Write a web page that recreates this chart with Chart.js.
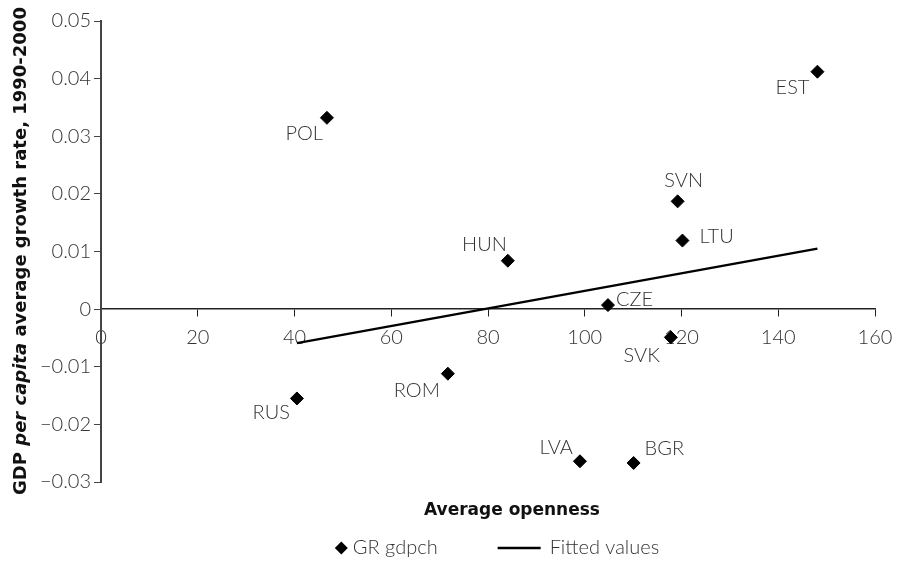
<!DOCTYPE html>
<html>
<head>
<meta charset="utf-8">
<script src="https://cdn.jsdelivr.net/npm/chart.js@4"></script>
<style>
  html, body { margin: 0; padding: 0; background: #fff; }
  #wrap { width: 903px; height: 570px; }
</style>
</head>
<body>
<div id="wrap"><canvas id="chart"></canvas></div>
<script>
"use strict";

// country codes and values
const countries = ["POL", "EST", "SVN", "LTU", "HUN", "CZE", "SVK", "ROM", "RUS", "LVA", "BGR"];
const openness = [46.7, 148.1, 119.2, 120.2, 84.1, 104.8, 117.8, 71.7, 40.5, 99.0, 110.1];
const growth = [0.0332, 0.0412, 0.0187, 0.0119, 0.0084, 0.0007, -0.0049, -0.0112, -0.0155, -0.0264, -0.0267];

// fitted line end points
const fitX = [40.5, 148.1];
const fitY = [-0.0059, 0.0105];

const xTicks = [0, 20, 40, 60, 80, 100, 120, 140, 160];
const yTicks = [-0.03, -0.02, -0.01, 0, 0.01, 0.02, 0.03, 0.04, 0.05];

// where each country label sits relative to its marker
const labelPlace = [
  { dx: -4, dy: 16, align: "right" },   // POL
  { dx: -8, dy: 16, align: "right" },   // EST
  { dx: 6, dy: -21, align: "center" },  // SVN
  { dx: 17, dy: -4, align: "left" },    // LTU
  { dx: -1, dy: -16, align: "right" },  // HUN
  { dx: 8, dy: -6, align: "left" },     // CZE
  { dx: -11, dy: 18, align: "right" },  // SVK
  { dx: -8, dy: 17, align: "right" },   // ROM
  { dx: -7, dy: 14, align: "right" },   // RUS
  { dx: -7, dy: -14, align: "right" },  // LVA
  { dx: 11, dy: -14, align: "left" }    // BGR
];

const lightFamily = "Lato, 'DejaVu Sans', sans-serif";
const lightFont = "300 20px " + lightFamily;
const boldFont = "bold 18px 'DejaVu Sans', sans-serif";
const italicBoldFont = "italic bold 18px 'DejaVu Sans', sans-serif";
const textColor = "#333";

function fmtY(v) {
  if (Math.abs(v) < 1e-9) return "0";
  const s = Math.abs(v).toFixed(2);
  return v < 0 ? "\u2212" + s : s;
}

// country labels next to markers
const pointLabels = {
  id: "pointLabels",
  afterDatasetsDraw(chart) {
    const meta = chart.getDatasetMeta(0);
    const ctx = chart.ctx;
    ctx.save();
    ctx.font = lightFont;
    ctx.fillStyle = textColor;
    ctx.textBaseline = "middle";
    meta.data.forEach((pt, i) => {
      const p = labelPlace[i];
      ctx.textAlign = p.align;
      ctx.fillText(countries[i], pt.x + p.dx, pt.y + p.dy);
    });
    ctx.restore();
  }
};

// axis titles (y title has an italic part) and the legend row
const axisTitles = {
  id: "axisTitles",
  afterDraw(chart) {
    const ctx = chart.ctx;
    ctx.save();
    ctx.fillStyle = "#111";
    ctx.textBaseline = "middle";

    ctx.font = "bold 17px 'DejaVu Sans', sans-serif";
    ctx.textAlign = "center";
    ctx.fillText("Average openness", 512, 511);

    const parts = [
      { t: "GDP ", f: boldFont },
      { t: "per capita", f: italicBoldFont },
      { t: " average growth rate, 1990-2000", f: boldFont }
    ];
    let total = 0;
    parts.forEach(p => { ctx.font = p.f; p.w = ctx.measureText(p.t).width; total += p.w; });
    ctx.save();
    ctx.translate(21, 251);
    ctx.rotate(-Math.PI / 2);
    ctx.textAlign = "left";
    let x = -total / 2;
    parts.forEach(p => { ctx.font = p.f; ctx.fillText(p.t, x, 0); x += p.w; });
    ctx.restore();

    // legend
    const ds = chart.data.datasets;
    const ly = 548;
    ctx.font = lightFont;
    const w1 = ctx.measureText(ds[0].label).width;
    const w2 = ctx.measureText(ds[1].label).width;
    const totalW = 13 + 5 + w1 + 60 + 43 + 9 + w2;
    let lx = 497 - totalW / 2;
    ctx.fillStyle = "#000";
    ctx.beginPath();
    ctx.moveTo(lx, ly);
    ctx.lineTo(lx + 6.5, ly - 6.5);
    ctx.lineTo(lx + 13, ly);
    ctx.lineTo(lx + 6.5, ly + 6.5);
    ctx.closePath();
    ctx.fill();
    lx += 18;
    ctx.fillStyle = textColor;
    ctx.textAlign = "left";
    ctx.fillText(ds[0].label, lx, ly);
    lx += w1 + 60;
    ctx.strokeStyle = "#000";
    ctx.lineWidth = 2.5;
    ctx.beginPath();
    ctx.moveTo(lx, ly);
    ctx.lineTo(lx + 43, ly);
    ctx.stroke();
    lx += 52;
    ctx.fillText(ds[1].label, lx, ly);
    ctx.restore();
  }
};

const canvas = document.getElementById("chart");
const ctx = canvas.getContext("2d");

const config = {
  type: "scatter",
  data: {
    datasets: [
      {
        label: "GR gdpch",
        data: openness.map((x, i) => ({ x: x, y: growth[i] })),
        pointStyle: "rectRot",
        pointRadius: 6.5,
        pointHoverRadius: 6.5,
        backgroundColor: "#000",
        borderColor: "#000",
        borderWidth: 1
      },
      {
        type: "line",
        label: "Fitted values",
        data: fitX.map((x, i) => ({ x: x, y: fitY[i] })),
        borderColor: "#000",
        backgroundColor: "#000",
        borderWidth: 2.5,
        pointRadius: 0,
        fill: false
      }
    ]
  },
  options: {
    responsive: true,
    maintainAspectRatio: false,
    animation: false,
    layout: { padding: { left: 0, top: 21, right: 28, bottom: 88 } },
    plugins: {
      legend: { display: false },
      tooltip: { enabled: false }
    },
    scales: {
      x: {
        type: "linear",
        position: { y: 0 },
        min: 0,
        max: 160,
        afterBuildTicks: scale => { scale.ticks = xTicks.map(v => ({ value: v })); },
        grid: { drawOnChartArea: false, drawTicks: true, tickLength: 7, color: "#222" },
        border: { display: true, color: "#222", width: 1.5 },
        ticks: {
          padding: 9,
          maxRotation: 0,
          color: textColor,
          font: { family: lightFamily, size: 20, weight: "300" }
        }
      },
      y: {
        type: "linear",
        min: -0.03,
        max: 0.05,
        afterBuildTicks: scale => { scale.ticks = yTicks.map(v => ({ value: v })); },
        afterFit: scale => { scale.width = 101; },
        grid: { drawOnChartArea: false, drawTicks: true, tickLength: 7, color: "#444" },
        border: { display: true, color: "#444", width: 2 },
        ticks: {
          padding: 3,
          color: textColor,
          callback: v => fmtY(v),
          font: { family: lightFamily, size: 20, weight: "300" }
        }
      }
    }
  },
  plugins: [pointLabels, axisTitles]
};

new Chart(ctx, config);
</script>
</body>
</html>
